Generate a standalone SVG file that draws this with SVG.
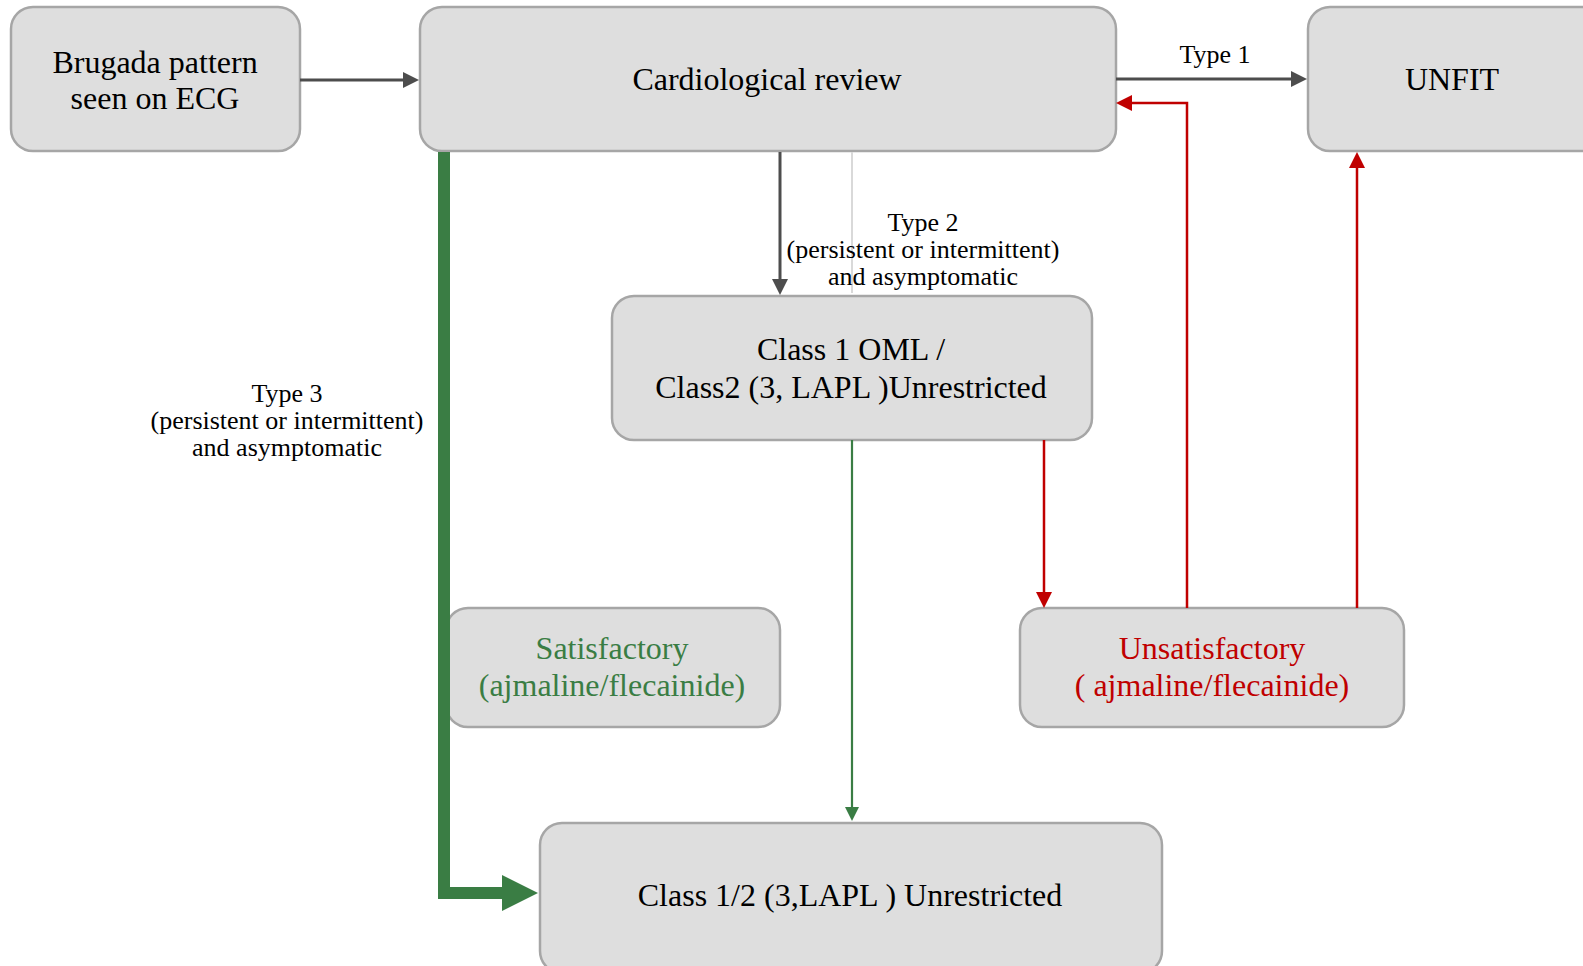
<svg xmlns="http://www.w3.org/2000/svg" width="1583" height="966" viewBox="0 0 1583 966">
<style>
.box{fill:#dedede;stroke:#a6a6a6;stroke-width:2.5}
.t{font-family:"Liberation Serif","Times New Roman",serif;font-size:32px;text-anchor:middle;fill:#000}
.lbl{font-family:"Liberation Serif","Times New Roman",serif;font-size:26px;text-anchor:middle;fill:#000}
.green{fill:#3a7d44}
.red{fill:#c00000}
.cd{fill:none;stroke:#4d4d4d;stroke-width:3}
.cr{fill:none;stroke:#c00000;stroke-width:2.5}
.cg{fill:none;stroke:#3a7d44;stroke-width:2.2}
</style>
<defs>
<marker id="ahd" markerWidth="16" markerHeight="16" refX="6" refY="8" orient="auto" markerUnits="userSpaceOnUse"><path d="M0,0 L16,8 L0,16 z" fill="#4d4d4d"/></marker>
<marker id="ahr" markerWidth="16" markerHeight="16" refX="6" refY="8" orient="auto" markerUnits="userSpaceOnUse"><path d="M0,0 L16,8 L0,16 z" fill="#c00000"/></marker>
<marker id="ahg" markerWidth="16" markerHeight="14" refX="6" refY="7" orient="auto" markerUnits="userSpaceOnUse"><path d="M0,0 L14,7 L0,14 z" fill="#3a7d44"/></marker>
<marker id="ahG" markerWidth="36" markerHeight="36" refX="8" refY="18" orient="auto" markerUnits="userSpaceOnUse"><path d="M0,0 L36,18 L0,36 z" fill="#3a7d44"/></marker>
</defs>
<rect width="1583" height="966" fill="#fff"/>
<g id="brugada">
<rect class="box" x="11" y="7" width="289" height="144" rx="22"/>
<text class="t" x="155" y="73">Brugada pattern</text>
<text class="t" x="155" y="109">seen on ECG</text>
</g>
<g id="cardio">
<rect class="box" x="420" y="7" width="696" height="144" rx="22"/>
<text class="t" x="767" y="90">Cardiological review</text>
</g>
<g id="unfit">
<rect class="box" x="1308" y="7" width="300" height="144" rx="22"/>
<text class="t" x="1452" y="90">UNFIT</text>
</g>
<g id="class1oml">
<rect class="box" x="612" y="296" width="480" height="144" rx="22"/>
<text class="t" x="851" y="360">Class 1 OML /</text>
<text class="t" x="851" y="398">Class2 (3, LAPL )Unrestricted</text>
</g>
<g id="satisfactory">
<rect class="box" x="446" y="608" width="334" height="119" rx="22"/>
<text class="t green" x="612" y="659">Satisfactory</text>
<text class="t green" x="612" y="696">(ajmaline/flecainide)</text>
</g>
<g id="unsatisfactory">
<rect class="box" x="1020" y="608" width="384" height="119" rx="22"/>
<text class="t red" x="1212" y="659">Unsatisfactory</text>
<text class="t red" x="1212" y="696">( ajmaline/flecainide)</text>
</g>
<g id="class12">
<rect class="box" x="540" y="823" width="622" height="150" rx="22"/>
<text class="t" x="850" y="906">Class 1/2 (3,LAPL ) Unrestricted</text>
</g>
<g id="connectors">
<path class="cd" d="M300,80 L409,80" marker-end="url(#ahd)"/>
<path class="cd" d="M1116,79 L1297,79" marker-end="url(#ahd)"/>
<text class="lbl" x="1215" y="63">Type 1</text>
<path class="cd" d="M780,152 L780,285" marker-end="url(#ahd)"/>
<path d="M852,152 L852,293" fill="none" stroke="#d9d9d9" stroke-width="2"/>
<text class="lbl" x="923" y="231">Type 2</text>
<text class="lbl" x="923" y="258">(persistent or intermittent)</text>
<text class="lbl" x="923" y="285">and asymptomatic</text>
<path d="M444,152 L444,893 L510,893" fill="none" stroke="#3a7d44" stroke-width="12" stroke-linejoin="miter" marker-end="url(#ahG)"/>
<text class="lbl" x="287" y="402">Type 3</text>
<text class="lbl" x="287" y="429">(persistent or intermittent)</text>
<text class="lbl" x="287" y="456">and asymptomatic</text>
<path class="cg" d="M852,440 L852,813" marker-end="url(#ahg)"/>
<path class="cr" d="M1044,440 L1044,598" marker-end="url(#ahr)"/>
<path class="cr" d="M1187,608 L1187,103 L1126,103" marker-end="url(#ahr)"/>
<path class="cr" d="M1357,608 L1357,162" marker-end="url(#ahr)"/>
</g>
</svg>
